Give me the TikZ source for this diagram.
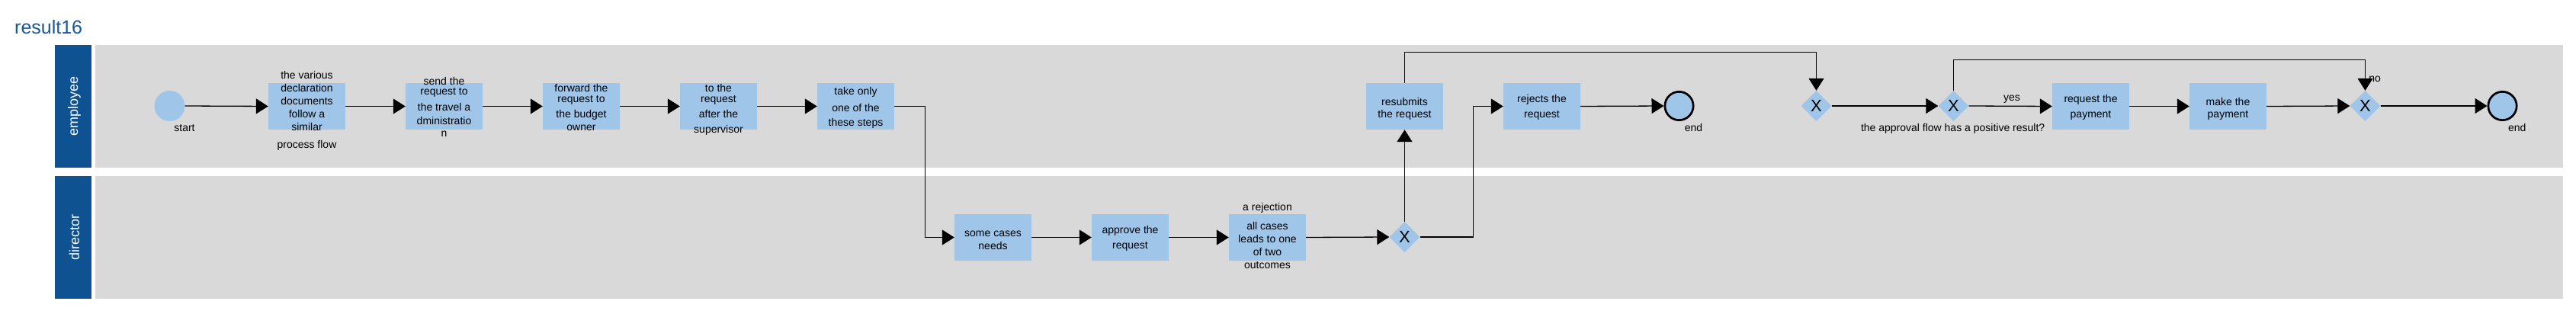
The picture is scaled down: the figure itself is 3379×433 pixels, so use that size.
\documentclass[tikz,border=0pt]{standalone}
\usepackage{fontspec}
\setmainfont{Liberation Sans}
\usetikzlibrary{arrows.meta,shapes.geometric}
\definecolor{hdrblue}{RGB}{14,82,146}
\definecolor{titleblue}{RGB}{22,88,156}
\definecolor{lanegray}{RGB}{217,217,217}
\definecolor{taskblue}{RGB}{159,197,232}
\begin{document}
\begin{tikzpicture}[x=1pt,y=-1pt,
  task/.style={rectangle, fill=taskblue, minimum width=101pt, minimum height=61pt, inner sep=0pt},
  gate/.style={diamond, aspect=1, fill=taskblue, minimum width=40pt, minimum height=40pt, inner sep=0pt, font=\fontsize{22}{26}\selectfont},
  startev/.style={circle, fill=taskblue, minimum size=40pt, inner sep=0pt},
  endev/.style={circle, fill=taskblue, draw=black, line width=2.7pt, minimum size=37.3pt, inner sep=0pt},
  txt/.style={font=\fontsize{14}{17}\selectfont, align=center, inner sep=0pt, anchor=north},
  flow/.style={draw=black, line width=1.3pt, -{Triangle[length=16pt,width=20pt]}},
  hdrtxt/.style={rotate=90, text=white, font=\fontsize{18}{22}\selectfont, inner sep=0pt}
]
\useasboundingbox (0,0) rectangle (3379,433);
% title
\node[anchor=base west, font=\fontsize{25}{30}\selectfont, text=titleblue, inner sep=0pt] (title) at (19,44.3) {result16};
% lanes
\fill[hdrblue] (72,59) rectangle (120,220);
\fill[lanegray] (125,59) rectangle (3362,220);
\fill[hdrblue] (72,231) rectangle (120,392);
\fill[lanegray] (125,231) rectangle (3362,392);
\node[hdrtxt] (h1) at (97.5,139.5) {employee};
\node[hdrtxt] (h2) at (97.5,311.5) {director};
% employee row 1
\node[startev] (s) at (222.5,139) {};
\node[task] (t1) at (402.5,139.5) {};
\node[task] (t2) at (582.5,139.5) {};
\node[task] (t3) at (762.5,139.5) {};
\node[task] (t4) at (942.5,139.5) {};
\node[task] (t5) at (1122.5,139.5) {};
% director
\node[task] (d1) at (1302.5,311.5) {};
\node[task] (d2) at (1482.5,311.5) {};
\node[task] (d3) at (1662.5,311.5) {};
\node[gate] (g1) at (1842.5,311) {X};
% employee continued
\node[task] (r1) at (1842.5,139.5) {};
\node[task] (r2) at (2022.5,139.5) {};
\node[endev] (e1) at (2202.5,139) {};
\node[gate] (g2) at (2382.5,139) {X};
\node[gate] (g3) at (2562.5,139) {X};
\node[task] (p1) at (2742.5,139.5) {};
\node[task] (p2) at (2922.5,139.5) {};
\node[gate] (g4) at (3102.5,139) {X};
\node[endev] (e2) at (3282.5,139) {};
% texts
\node[txt] (lt1) at (402.5,91.6) {\strut the various\\declaration\\documents\\follow a\\similar\\[6pt]process flow};
\node[txt] (lt2) at (582.5,99.6) {\strut send the\\[-4pt]request to\\[4pt]the travel a\\[1pt]dministratio\\[-1pt]n};
\node[txt] (lt3) at (762.5,108.6) {\strut forward the\\[-3pt]request to\\[3pt]the budget\\owner};
\node[txt] (lt4) at (942.5,108.6) {\strut to the\\[-3pt]request\\[3pt]after the\\[3pt]supervisor};
\node[txt] (lt5) at (1122.5,112.9) {\strut take only\\[4pt]one of the\\[2pt]these steps};
\node[txt] (ld1) at (1302.5,297.9) {\strut some cases\\needs};
\node[txt] (ld2) at (1482.5,294.6) {\strut approve the\\[3pt]request};
\node[txt] (ld3) at (1662.5,264.6) {\strut a rejection\\[8pt]all cases\\leads to one\\of two\\outcomes};
\node[txt] (lr1) at (1842.5,125.9) {\strut resubmits\\the request};
\node[txt] (lr2) at (2022.5,122.6) {\strut rejects the\\[3pt]request};
\node[txt] (lp1) at (2742.5,122.6) {\strut request the\\[3pt]payment};
\node[txt] (lp2) at (2922.5,125.9) {\strut make the\\payment};
\node[txt] (ls) at (242,160.3) {\strut start};
\node[txt] (le1) at (2221.5,160.6) {\strut end};
\node[txt] (le2) at (3301.7,160.6) {\strut end};
\node[txt] (lq) at (2561.6,160.6) {\strut the approval flow has a positive result?};
\node[txt] (lyes) at (2639,120.6) {\strut yes};
\node[txt] (lno) at (3115,95.6) {\strut no};
% flows
\draw[flow] (s.east) -- (t1.west);
\draw[flow] (t1.east) -- (t2.west);
\draw[flow] (t2.east) -- (t3.west);
\draw[flow] (t3.east) -- (t4.west);
\draw[flow] (t4.east) -- (t5.west);
\draw[flow] (t5.east) -- ++(40,0) |- (d1.west);
\draw[flow] (d1.east) -- (d2.west);
\draw[flow] (d2.east) -- (d3.west);
\draw[flow] (d3.east) -- (g1.west);
\draw[flow] (g1.north) -- (r1.south);
\draw[flow] (g1.east) -- ++(70,0) |- (r2.west);
\draw[flow] (r2.east) -- (e1.west);
\draw[flow] (r1.north) -- ++(0,-40) -| (g2.north);
\draw[flow] (g2.east) -- (g3.west);
\draw[flow] (g3.east) -- (p1.west);
\draw[flow] (p1.east) -- (p2.west);
\draw[flow] (p2.east) -- (g4.west);
\draw[flow] (g3.north) -- ++(0,-40) -| (g4.north);
\draw[flow] (g4.east) -- (e2.west);
\end{tikzpicture}
\end{document}
